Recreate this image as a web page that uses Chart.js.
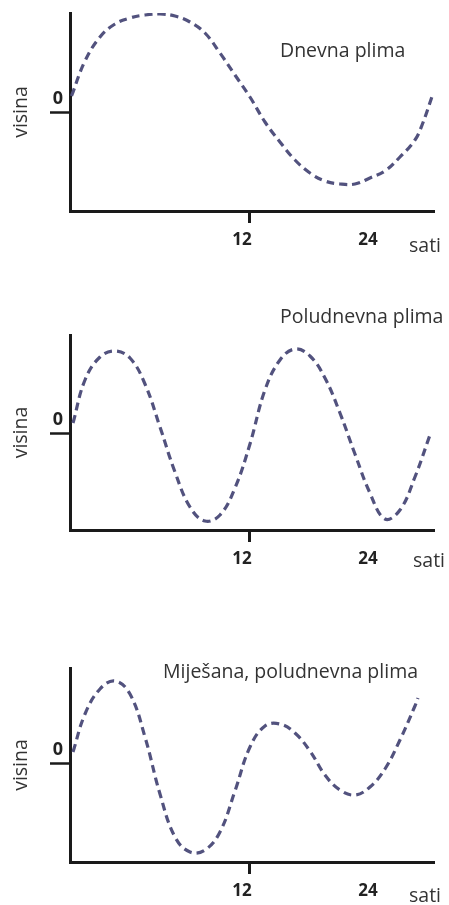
<!DOCTYPE html>
<html>
<head>
<meta charset="utf-8">
<script src="https://cdn.jsdelivr.net/npm/chart.js@4.4.1/dist/chart.umd.min.js"></script>
<style>
  body { margin: 0; background: #fff; width: 449px; height: 905px; position: relative; overflow: hidden; }
  canvas { position: absolute; left: 0; }
</style>
</head>
<body>
<canvas id="dnevna" width="449" height="262" style="top:0px"></canvas>
<canvas id="poludnevna" width="449" height="300" style="top:300px"></canvas>
<canvas id="mjesovita" width="449" height="305" style="top:600px"></canvas>
<script>
// heights, hours along x (0 = mean sea level)
const dnevnaSati = [0.1, 1, 2, 3, 4, 5, 6, 7, 8, 9, 10, 11, 12, 13, 14, 15, 16, 17, 18, 19, 20, 21, 22, 23, 23.5, 24.15];
const dnevnaVisina = [1.6, 5.1, 7.5, 8.8, 9.4, 9.7, 9.8, 9.6, 9.0, 7.9, 5.9, 3.7, 1.5, -1.0, -3.0, -4.8, -6.1, -6.9, -7.2, -7.2, -6.6, -5.9, -4.5, -2.8, -1.2, 1.6];

const poludnevnaSati = [0.2, 1, 2, 3, 4, 5, 6, 7, 8, 9, 10, 11, 12, 13, 14, 15, 16, 17, 18, 19, 20, 21, 22, 23, 24];
const poludnevnaVisina = [1.0, 5.3, 7.6, 8.2, 7.5, 4.9, 0.6, -3.9, -7.4, -8.8, -8.2, -5.5, -1.1, 4.3, 7.3, 8.4, 7.7, 5.5, 2.0, -2.1, -6.0, -8.6, -7.7, -4.4, -0.2];

const mjesovitaSati = [0.2, 1, 2, 3, 4, 5, 6, 7, 8, 9, 10, 11, 12, 13, 14, 15, 16, 17, 18, 19, 20, 21, 22, 23, 23.2];
const mjesovitaVisina = [1.1, 4.9, 7.4, 8.2, 6.9, 2.6, -3.1, -7.4, -8.9, -8.7, -6.9, -2.8, 1.6, 3.7, 3.9, 3.0, 1.2, -1.2, -2.7, -3.2, -2.4, -0.6, 2.3, 5.7, 6.5];

// the sketch puts "24" well short of the axis end, so it sits at 20.4 h
const xTickValues = [12, 20.4];
const xTickLabels = ['12', '24'];
const yTickValues = [0];
const yTickLabels = ['0'];

const axisColor = '#1a1a1a';
const textColor = '#333';
const lineColor = '#52527e';

const notesPlugin = {
  id: 'notes',
  afterDraw(chart, args, opts) {
    const ctx = chart.ctx;
    ctx.save();
    ctx.fillStyle = textColor;
    ctx.font = '19.5px "Open Sans"';
    ctx.textAlign = 'left';
    ctx.textBaseline = 'alphabetic';
    ctx.fillText(opts.title, opts.titleX, opts.titleY);
    ctx.textBaseline = 'middle';
    ctx.fillText('sati', opts.satiX, opts.satiY);
    ctx.restore();
  }
};

function makeTide(id, hours, heights, yMin, yMax, box) {
  const H = document.getElementById(id).height;
  const points = hours.map((h, i) => ({ x: h, y: heights[i] }));
  return new Chart(document.getElementById(id), {
    type: 'line',
    data: {
      datasets: [{
        data: points,
        borderColor: lineColor,
        borderWidth: 3.2,
        borderDash: [8, 5],
        pointRadius: 0,
        fill: false,
        tension: 0.4
      }]
    },
    options: {
      responsive: false,
      animation: false,
      layout: { padding: { left: 0, right: 15, top: box.top, bottom: 0 } },
      plugins: {
        legend: { display: false },
        tooltip: { enabled: false },
        notes: box
      },
      scales: {
        x: {
          type: 'linear',
          min: 0,
          max: 24.27,
          afterBuildTicks: s => { s.ticks = xTickValues.map(v => ({ value: v })); },
          afterFit: s => { s.height = H - box.bottom; },
          border: { display: true, color: axisColor, width: 3 },
          grid: {
            display: true,
            drawOnChartArea: false,
            drawTicks: true,
            tickLength: 12,
            tickWidth: 3,
            tickColor: c => c.index === 0 ? axisColor : 'rgba(0,0,0,0)'
          },
          ticks: {
            padding: 7,
            labelOffset: -8,
            color: '#222',
            font: { family: 'Open Sans', size: 17, weight: 'bold' },
            callback: (v, i) => xTickLabels[i]
          }
        },
        y: {
          min: yMin,
          max: yMax,
          afterBuildTicks: s => { s.ticks = yTickValues.map(v => ({ value: v })); },
          afterFit: s => { s.width = 70; },
          border: { display: true, color: axisColor, width: 3 },
          grid: {
            display: true,
            drawOnChartArea: false,
            drawTicks: true,
            tickLength: 20,
            tickWidth: 2.5,
            tickColor: axisColor
          },
          ticks: {
            padding: -13,
            labelOffset: -13,
            color: '#222',
            font: { family: 'Open Sans', size: 18, weight: 'bold' },
            callback: (v, i) => yTickLabels[i]
          },
          title: {
            display: true,
            text: 'visina',
            color: textColor,
            font: { family: 'Open Sans', size: 19.5 },
            padding: { top: 10 }
          }
        }
      }
    },
    plugins: [notesPlugin]
  });
}

makeTide('dnevna', dnevnaSati, dnevnaVisina, -9.9, 9.9,
  { top: 13, bottom: 211, title: 'Dnevna plima', titleX: 280, titleY: 57, satiX: 409, satiY: 246 });
makeTide('poludnevna', poludnevnaSati, poludnevnaVisina, -9.7, 9.8,
  { top: 35, bottom: 230, title: 'Poludnevna plima', titleX: 280, titleY: 23, satiX: 413, satiY: 261 });
makeTide('mjesovita', mjesovitaSati, mjesovitaVisina, -9.9, 9.5,
  { top: 68, bottom: 262, title: 'Miješana, poludnevna plima', titleX: 163, titleY: 78, satiX: 409, satiY: 296 });
</script>
</body>
</html>
